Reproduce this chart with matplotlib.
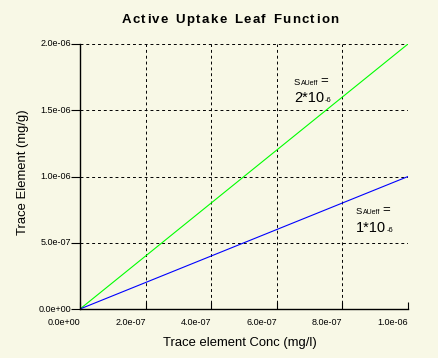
import matplotlib
matplotlib.use("Agg")
import matplotlib.pyplot as plt
import numpy as np

conc = [0.0, 1.0e-6]
green_vals = [0.0, 2.0e-6]
blue_vals = [0.0, 1.0e-6]
xticks = [0.0, 2e-7, 4e-7, 6e-7, 8e-7, 1e-6]
xtick_labels = ["0.0e+00", "2.0e-07", "4.0e-07", "6.0e-07", "8.0e-07", "1.0e-06"]
yticks = [0.0, 5e-7, 1e-6, 1.5e-6, 2e-6]
ytick_labels = ["0.0e+00", "5.0e-07", "1.0e-06", "1.5e-06", "2.0e-06"]
title = "Active Uptake Leaf Function"

bg = "#F8F8E6"
plt.rcParams['font.family'] = ['Liberation Sans', 'DejaVu Sans']
W, H = 439, 358
fig = plt.figure(figsize=(W/100, H/100), dpi=100, facecolor=bg)
ax = fig.add_axes([80/W, 1-309/H, (408-80)/W, (309-44)/H], facecolor=bg)

ax.plot(conc, green_vals, color="#00FF00", lw=0.8)
ax.plot(conc, blue_vals, color="#0000FF", lw=0.8)
ax.set_xlim(0, 1e-6)
ax.set_ylim(0, 2e-6)

ax.set_xticks(xticks)
ax.set_yticks(yticks)
ax.set_xticklabels([])
ax.set_yticklabels([])
ax.tick_params(axis='x', direction='in', length=5, width=0.8, color='black')
ax.tick_params(axis='y', direction='out', length=6.5, width=0.8, color='black')
ax.grid(True, color='black', linestyle=(0, (3, 3)), linewidth=0.7)
for s in ['top', 'right']:
    ax.spines[s].set_visible(False)
for s in ['left', 'bottom']:
    ax.spines[s].set_linewidth(1.0)

tickfont = ['Liberation Sans Narrow', 'Liberation Sans', 'DejaVu Sans']
for v, lab in zip(xticks, xtick_labels):
    ax.annotate(lab, xy=(v, 0), xycoords=('data', 'axes fraction'),
                xytext=(0, -9.5), textcoords='offset points',
                ha='right', va='center', fontsize=6.5, family=tickfont)
for v, lab in zip(yticks, ytick_labels):
    ax.annotate(lab, xy=(0, v), xycoords=('axes fraction', 'data'),
                xytext=(-6.5, 0), textcoords='offset points',
                ha='right', va='center', fontsize=6.5, family=tickfont)

renderer = fig.canvas.get_renderer()

def text_width(s, **kw):
    t = fig.text(0, 0, s, **kw)
    w = t.get_window_extent(renderer).width
    t.remove()
    return w

# letter-spaced bold title
fs_title = 9.5
spacing = 1.4  # px
widths = []
for ch in title:
    w = text_width(ch if ch != ' ' else 'n', fontsize=fs_title, fontweight='bold')
    if ch == ' ':
        w *= 0.55
    widths.append(w)
total = sum(widths) + spacing * (len(title) - 1)
x = 230 - total / 2
for ch, w in zip(title, widths):
    if ch != ' ':
        fig.text(x / W, 1 - 23 / H, ch, fontsize=fs_title, fontweight='bold',
                 ha='left', va='baseline')
    x += w + spacing

fig.text(240 / W, 1 - 343 / H, "Trace element Conc (mg/l)", fontsize=9.4,
         ha='center', va='center')
fig.text(23 / W, 1 - 172 / H, "Trace Element (mg/g)", fontsize=9.4,
         ha='center', va='center', rotation=90)

def runs(x, y, parts):
    for s, fs, dy, gap in parts:
        fig.text(x / W, 1 - (y + dy) / H, s, fontsize=fs, ha='left', va='baseline')
        x += text_width(s, fontsize=fs) + gap

def label(x, y1, y2, big):
    runs(x, y1, [("S", 6.8, 0, 0.5), ("AUeff", 5.0, 0, 2), ("=", 9.5, -1, 0)])
    runs(x, y2, [(big, 10.5, 0, 0.5), ("-6", 5.5, 0, 0)])

label(294, 85, 102, "2*10")
label(356, 214, 232, "1*10")

fig.savefig("out.png", dpi=100, facecolor=bg)
